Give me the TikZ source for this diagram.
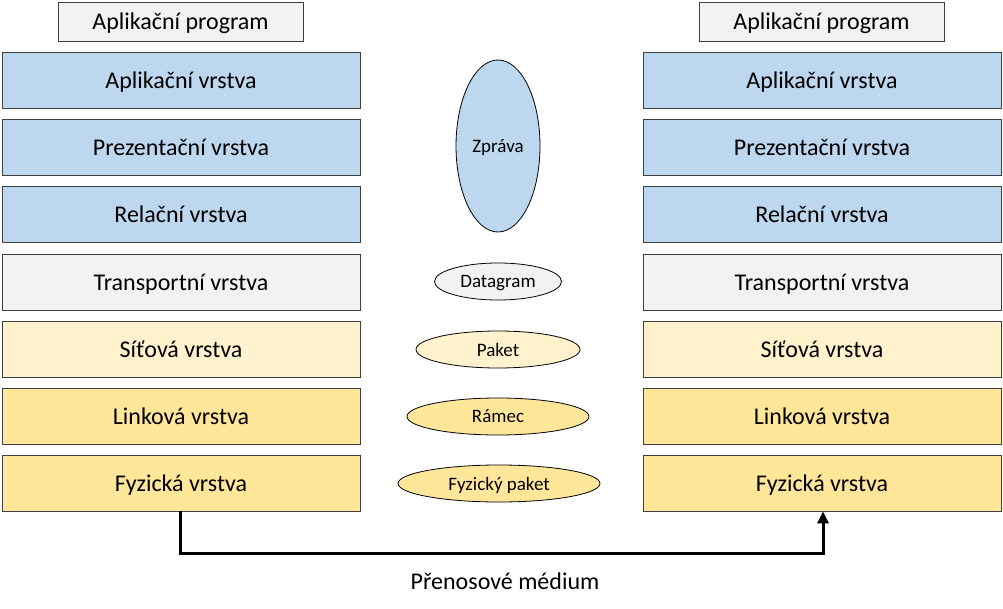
\documentclass[tikz,border=0pt]{standalone}
\usepackage{fontspec}
\setmainfont{Carlito}
\usetikzlibrary{shapes.geometric,arrows.meta}
\definecolor{cblue}{HTML}{BDD7EE}
\definecolor{cgray}{HTML}{F2F2F2}
\definecolor{clyel}{HTML}{FFF2CC}
\definecolor{cyel}{HTML}{FFE699}
\definecolor{cline}{HTML}{404040}
\tikzset{
  layer/.style={draw=cline, line width=0.8pt, minimum width=358pt, minimum height=56pt, inner sep=0pt, text depth=0pt, font=\fontsize{24}{28}\selectfont},
  prog/.style={draw=cline, line width=0.8pt, fill=cgray, minimum width=245pt, minimum height=39pt, inner sep=0pt, text depth=0pt, font=\fontsize{24}{28}\selectfont},
  unit/.style={ellipse, draw=black, line width=0.8pt, inner sep=0pt, text depth=0pt, font=\fontsize{19}{22}\selectfont},
  medium/.style={line width=3pt, -{Triangle[length=12pt,width=11pt]}}
}
\begin{document}
\begin{tikzpicture}[x=1pt,y=-1pt]
\useasboundingbox (0,0) rectangle (1003,609);
% left stack
\node[prog] (lprog) at (180.5,21.5) {Aplikační program};
\node[layer, fill=cblue] (lapp) at (181,80) {Aplikační vrstva};
\node[layer, fill=cblue] (lpres) at (181,147) {Prezentační vrstva};
\node[layer, fill=cblue] (lses) at (181,214) {Relační vrstva};
\node[layer, fill=cgray] (ltra) at (181,282) {Transportní vrstva};
\node[layer, fill=clyel] (lnet) at (181,349) {Síťová vrstva};
\node[layer, fill=cyel] (llink) at (181,416) {Linková vrstva};
\node[layer, fill=cyel] (lphy) at (181,483) {Fyzická vrstva};
% right stack
\node[prog] (rprog) at (821.5,21.5) {Aplikační program};
\node[layer, fill=cblue] (rapp) at (822,80) {Aplikační vrstva};
\node[layer, fill=cblue] (rpres) at (822,147) {Prezentační vrstva};
\node[layer, fill=cblue] (rses) at (822,214) {Relační vrstva};
\node[layer, fill=cgray] (rtra) at (822,282) {Transportní vrstva};
\node[layer, fill=clyel] (rnet) at (822,349) {Síťová vrstva};
\node[layer, fill=cyel] (rlink) at (822,416) {Linková vrstva};
\node[layer, fill=cyel] (rphy) at (822,483) {Fyzická vrstva};
% data units
\node[unit, fill=cblue, minimum width=84pt, minimum height=172pt] (msg) at (498,146) {Zpráva};
\node[unit, fill=cgray, minimum width=127pt, minimum height=37pt] (dgram) at (498,281.5) {Datagram};
\node[unit, fill=clyel, minimum width=164pt, minimum height=37pt] (pkt) at (498,349.5) {Paket};
\node[unit, fill=cyel, minimum width=182pt, minimum height=37pt] (frame) at (498,416.5) {Rámec};
\node[unit, fill=cyel, minimum width=202pt, minimum height=37pt] (bits) at (499,483.5) {Fyzický paket};
% medium
\coordinate (a) at ([xshift=-1pt]lphy.south);
\coordinate (b) at ([xshift=1pt]rphy.south);
\draw[medium] (a) |- (180,553) -| (b);
\node[font=\fontsize{24}{28}\selectfont] (med) at (505,581) {Přenosové médium};
\end{tikzpicture}
\end{document}
